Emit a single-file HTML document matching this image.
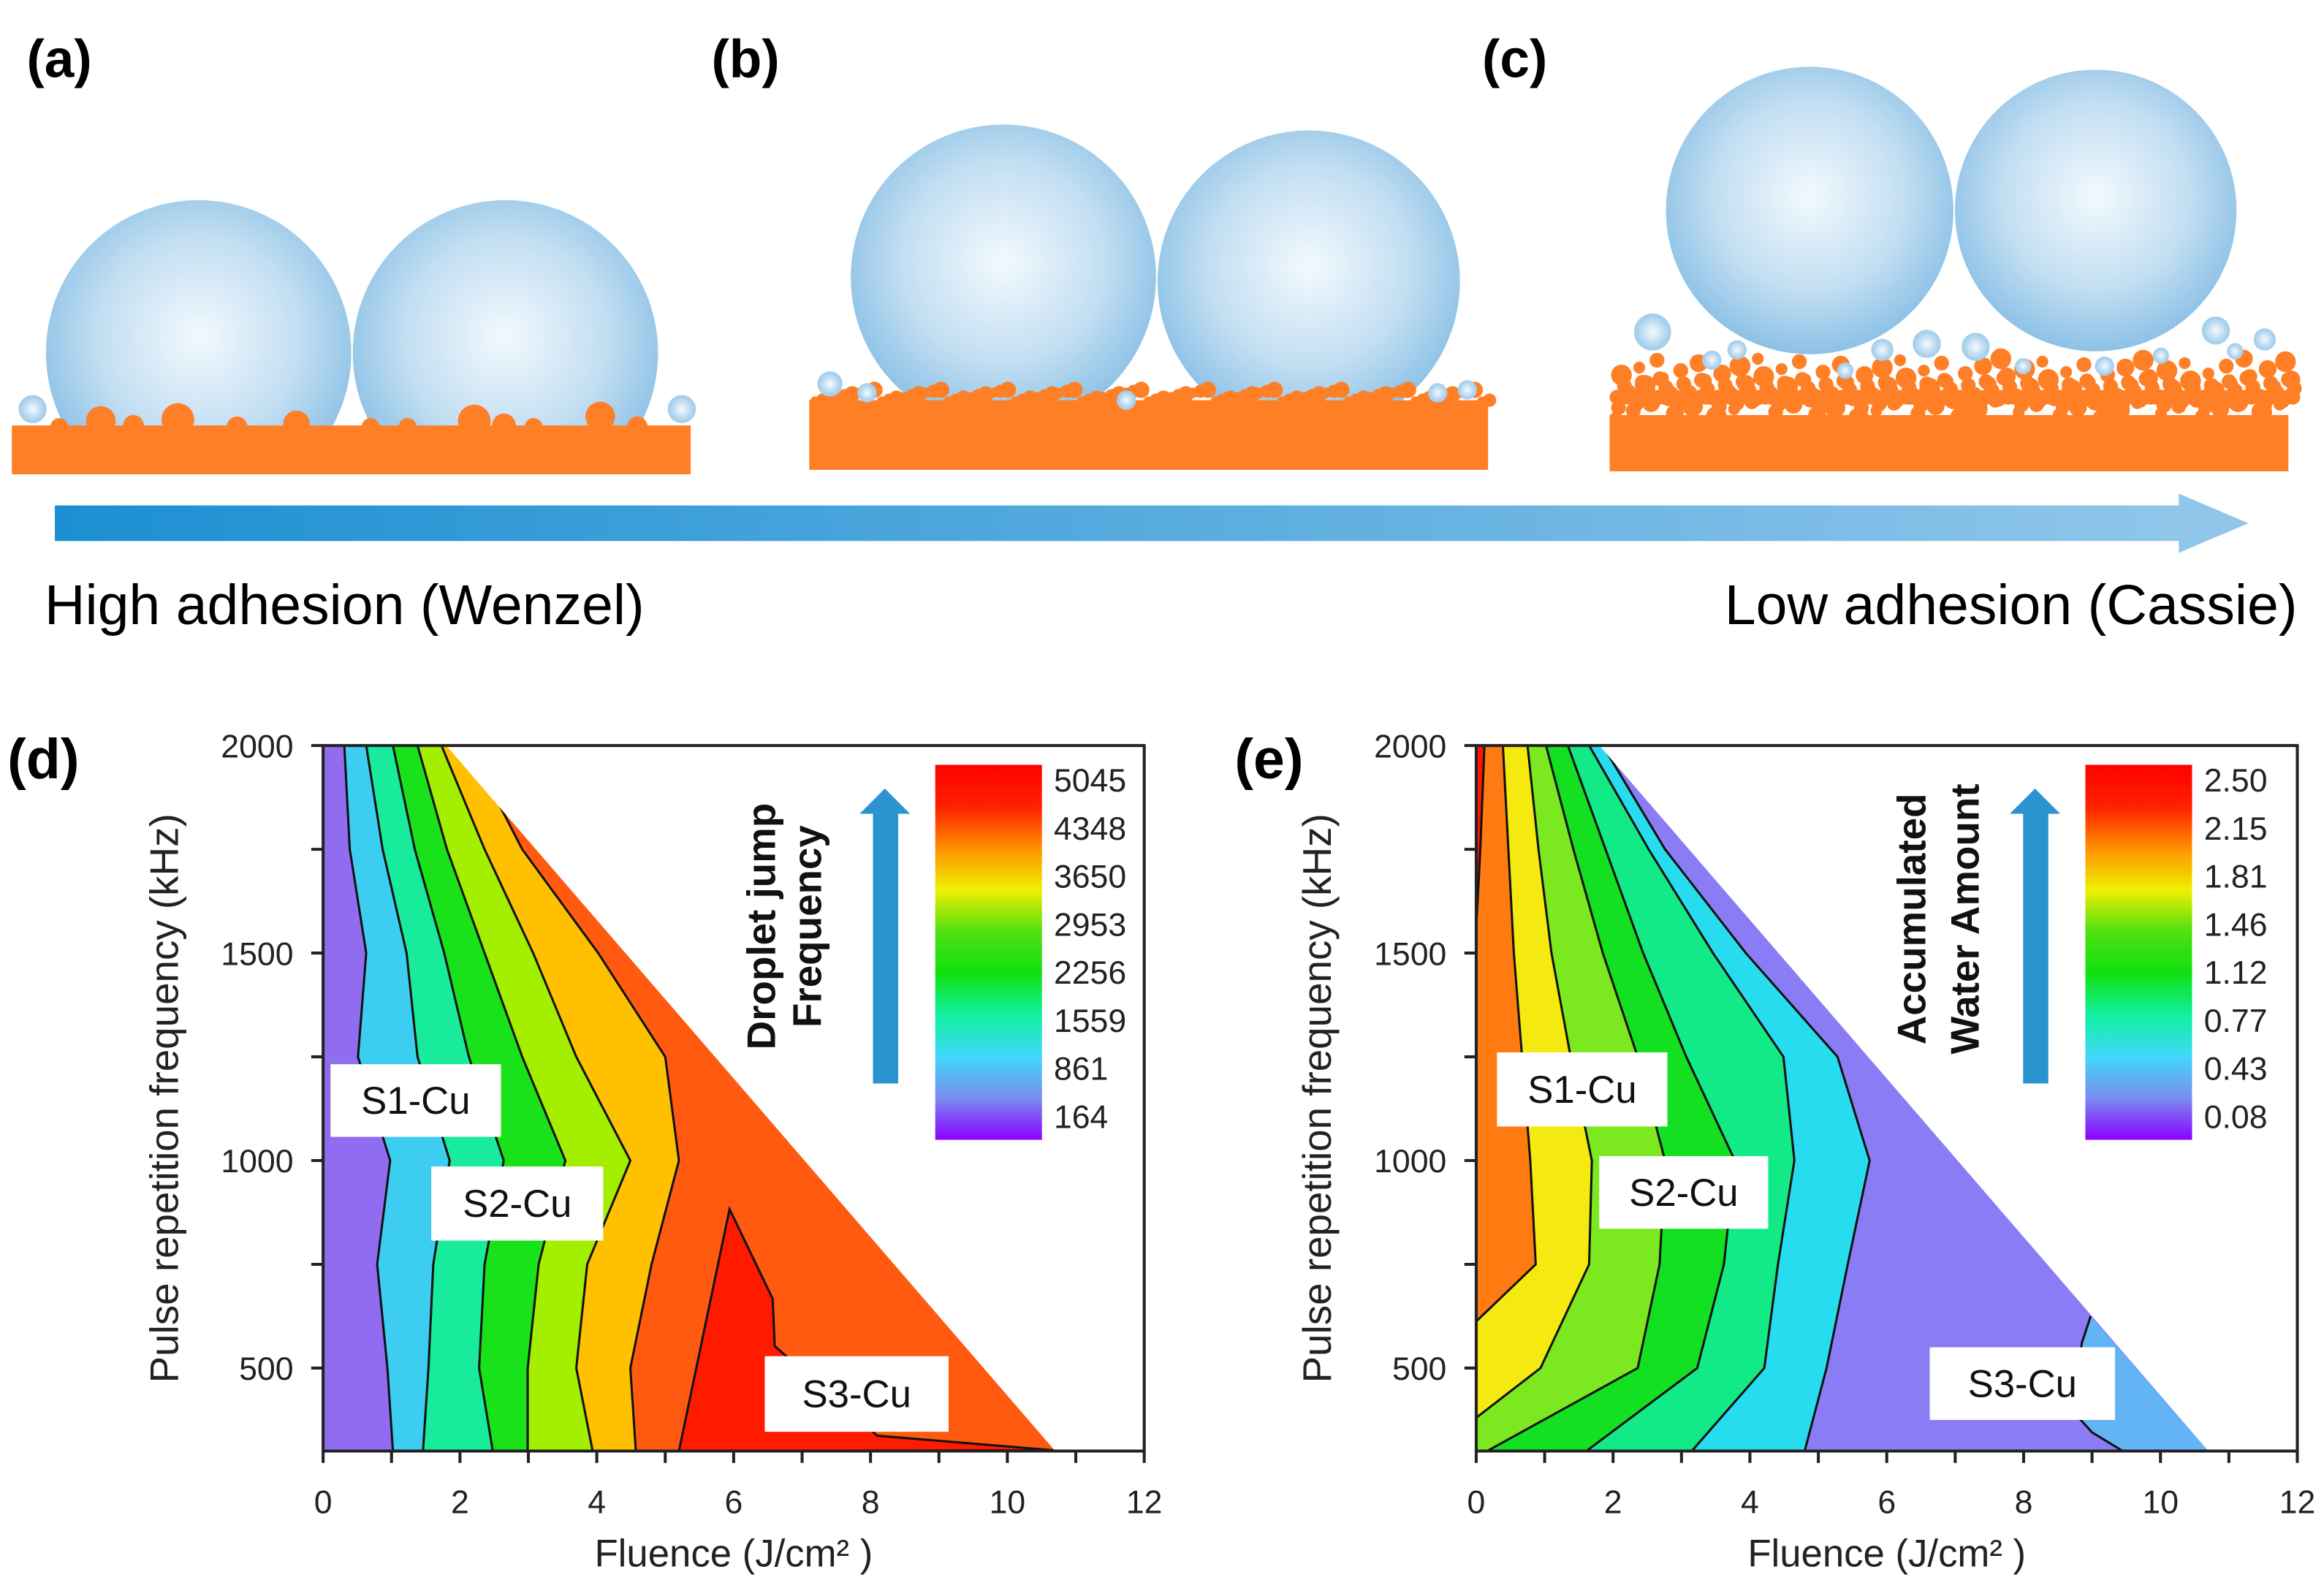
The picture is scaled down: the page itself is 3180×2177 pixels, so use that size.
<!DOCTYPE html>
<html><head><meta charset="utf-8">
<style>
html,body{margin:0;padding:0;background:#fff;}
svg{display:block;font-family:"Liberation Sans",Arial,sans-serif;}
</style></head>
<body>
<svg id="fig" width="3180" height="2177" viewBox="0 0 1568 1073.4" xmlns="http://www.w3.org/2000/svg">
<defs>
<radialGradient id="drop" cx="0.5" cy="0.45" r="0.55">
<stop offset="0" stop-color="#f2f9fd"/><stop offset="0.6" stop-color="#c2def2"/><stop offset="1" stop-color="#8cc1e6"/>
</radialGradient>
<radialGradient id="bub" cx="0.5" cy="0.5" r="0.5">
<stop offset="0" stop-color="#f4fafe"/><stop offset="1" stop-color="#9fcbea"/>
</radialGradient>
<linearGradient id="arrowg" x1="0" x2="1" y1="0" y2="0">
<stop offset="0" stop-color="#1b8fd2"/><stop offset="1" stop-color="#90c6ea"/>
</linearGradient>
<clipPath id="clipA"><rect x="0" y="0" width="1568" height="295"/></clipPath>
<clipPath id="clipB"><rect x="0" y="0" width="1568" height="275"/></clipPath>
<clipPath id="clipC"><rect x="0" y="0" width="1568" height="250"/></clipPath>
</defs>

<g id="topSchematic"></g>

<text x="18" y="52" font-size="36" font-weight="bold">(a)</text>
<text x="480" y="52" font-size="36" font-weight="bold">(b)</text>
<text x="1000" y="52" font-size="36" font-weight="bold">(c)</text>

<g>
<rect x="37" y="341" width="1436" height="24" fill="url(#arrowg)"/>
<polygon points="1470,333 1517,353 1470,373" fill="#90c6ea"/>
</g>
<text x="30" y="421" font-size="38">High adhesion (Wenzel)</text>
<text x="1550" y="421" font-size="38" text-anchor="end">Low adhesion (Cassie)</text>

<text x="5" y="525" font-size="38" font-weight="bold">(d)</text>
<text x="833" y="525" font-size="38" font-weight="bold">(e)</text>

<g id="plotD"></g>
<g id="plotE"></g>
</svg>

<script>
// ---------- chart data ----------
const yLevels = [2000, 1750, 1500, 1250, 1000, 750, 500, 300];
const xTicks = [0, 2, 4, 6, 8, 10, 12];
const yTicks = [500, 1000, 1500, 2000];
const domainEdgeTop = 1.8;
const domainEdgeBottom = 10.7;

const dLine1 = [0.31, 0.39, 0.63, 0.51, 0.98, 0.79, 0.94, 1.02];
const dLine2 = [0.63, 0.87, 1.22, 1.38, 1.85, 1.61, 1.54, 1.46];
const dLine3 = [1.02, 1.34, 1.77, 2.13, 2.64, 2.36, 2.28, 2.48];
const dLine4 = [1.38, 1.81, 2.36, 2.91, 3.54, 3.15, 2.99, 2.99];
const dLine5 = [1.73, 2.36, 3.07, 3.70, 4.49, 3.86, 3.70, 3.94];
const dLine6 = [2.13, 2.91, 4.02, 5.00, 5.20, 4.80, 4.49, 4.57];
const dPeakX = [5.2, 5.94, 6.57, 6.6, 8.1, 10.67];
const dPeakY = [300, 883, 667, 553, 337, 302];
const dColors = ['#8f6cf0', '#3ccdf0', '#18ec9c', '#1ae21a', '#a4ee00', '#ffc000', '#ff5a10'];
const dPeakColor = '#ff1a00';
const dBarLabels = ['5045', '4348', '3650', '2953', '2256', '1559', '861', '164'];

const eLine1 = [0.12, 0.06, -0.02, -0.09, -0.16, -0.2, -0.24, -0.28];
const eLine2 = [0.39, 0.47, 0.55, 0.67, 0.79, 0.87, -0.71, -1.18];
const eLine3 = [0.75, 0.91, 1.10, 1.38, 1.69, 1.65, 0.94, -0.63];
const eLine4 = [1.02, 1.42, 1.85, 2.36, 2.76, 2.68, 2.36, 0.16];
const eLine5 = [1.34, 1.89, 2.44, 3.07, 3.78, 3.62, 3.23, 1.61];
const eLine6 = [1.65, 2.52, 3.46, 4.49, 4.65, 4.41, 4.21, 3.15];
const eLine7 = [1.85, 2.76, 3.94, 5.28, 5.75, 5.43, 5.12, 4.80];
const eCornerX = [8.98, 8.85, 8.7, 9.0, 9.45, 10.7];
const eCornerY = [625, 560, 400, 345, 300, 300];
const eColors = ['#ff1500', '#ff7a10', '#f5ea10', '#7ce820', '#12e020', '#12ea88', '#28dcf0', '#8a7cf5'];
const eCornerColor = '#62b4f4';
const eBarLabels = ['2.50', '2.15', '1.81', '1.46', '1.12', '0.77', '0.43', '0.08'];

const NS = 'http://www.w3.org/2000/svg';
function mk(tag, attrs, parent) {
  const el = document.createElementNS(NS, tag);
  for (const k in attrs) el.setAttribute(k, attrs[k]);
  if (parent) parent.appendChild(el);
  return el;
}

// ---------- top schematic ----------
const topG = document.getElementById('topSchematic');
function drop(cx, cy, r, name, clip) {
  const c = mk('circle', {cx, cy, r, fill: 'url(#drop)', 'clip-path': `url(#${clip})`}, topG);
  
  
}
function bubble(cx, cy, r) {
  const c = mk('circle', {cx, cy, r, fill: 'url(#bub)', stroke: '#a9d0ec', 'stroke-width': 1}, topG);
  
  
}
function substrate(x, y, w, h, bumps, name) {
  const g = mk('g', {fill: '#ff7f27'}, topG);
  
  
  mk('rect', {x, y, width: w, height: h}, g);
  bumps.forEach(b => mk('circle', {cx: b[0], cy: b[1], r: b[2]}, g));
}
drop(134, 238, 103, 'droplet-a1', 'clipA'); drop(341, 238, 103, 'droplet-a2', 'clipA');
drop(677, 187, 103, 'droplet-b1', 'clipB'); drop(883, 190, 102, 'droplet-b2', 'clipB');
drop(1221, 142, 97, 'droplet-c1', 'clipC'); drop(1414, 142, 95, 'droplet-c2', 'clipC');

substrate(8, 287, 458, 33, [[40,288,6],[68,284,10],[90,287,7],[120,283,11],[160,288,7],[200,286,9],[250,288,6],[275,288,6],[320,284,11],[340,287,8],[360,288,6],[405,281,10],[430,288,7]], 'substrate-a');
const bb = [];
for (let i = 0; i < 92; i++) {
  const x = 550 + i * 5;
  bb.push([x, 271 - ((i * 37) % 9), 3.5 + ((i * 13) % 3)]);
}
substrate(546, 270, 458, 47, bb, 'substrate-b');
const cbm = [];
for (let i = 0; i < 115; i++) {
  const x = 1090 + i * 4;
  const hh = (i * 29) % 41;
  cbm.push([x, 282 - hh, 4 + ((i * 7) % 4)]);
  cbm.push([x + 2, 275 - hh * 0.5, 5]);
  cbm.push([x + 1, 268, 5]);
}
substrate(1086, 280, 458, 38, cbm, 'substrate-c');

[[22,276,9],[460,276,9],[560,259,8],[585,265,6],[760,270,6],[970,265,6],[990,263,6],
 [1115,224,12],[1155,243,6],[1172,236,6],[1245,250,5],[1270,236,7],[1300,232,9],[1333,234,9],
 [1365,247,5],[1420,247,6],[1458,240,5],[1495,223,9],[1508,237,5],[1528,229,7]].forEach(b => bubble(b[0], b[1], b[2]));

// ---------- contour plot ----------
function contourPlot(gid, x0, cfg) {
  const g = document.getElementById(gid);
  const W = 554, yTop = 503, yBot = 979;
  const sx = v => x0 + v / 12 * W;
  const sy = v => yBot - (v - 300) / 1700 * (yBot - yTop);
  const clipId = gid + 'clip';
  const defs = mk('defs', {}, g);
  const cp = mk('clipPath', {id: clipId}, defs);
  mk('polygon', {points: `${sx(0)},${sy(300)} ${sx(0)},${sy(2000)} ${sx(domainEdgeTop)},${sy(2000)} ${sx(domainEdgeBottom)},${sy(300)}`}, cp);
  const area = mk('g', {'clip-path': `url(#${clipId})`}, g);
  const lines = cfg.lines;
  const bound = [yLevels.map(() => -3), ...lines, yLevels.map(() => 14)];
  for (let i = 0; i < bound.length - 1; i++) {
    const a = bound[i], b = bound[i + 1];
    const pts = [];
    yLevels.forEach((y, k) => pts.push(`${sx(a[k])},${sy(y)}`));
    for (let k = yLevels.length - 1; k >= 0; k--) pts.push(`${sx(b[k])},${sy(yLevels[k])}`);
    const p = mk('polygon', {points: pts.join(' '), fill: cfg.colors[i]}, area);
    
    
  }
  if (cfg.extraX) {
    const pts = cfg.extraX.map((x, k) => `${sx(x)},${sy(cfg.extraY[k])}`);
    const pg = mk('polygon', {points: pts.join(' '), fill: cfg.extraColor}, area);
    
    
    const pl = mk(cfg.extraClosed ? 'polygon' : 'polyline', {points: pts.join(' '), fill: 'none', stroke: '#111', 'stroke-width': 1.5}, area);
    
    
  }
  lines.forEach((ln, i) => {
    const pts = ln.map((x, k) => `${sx(x)},${sy(yLevels[k])}`).join(' ');
    const pl = mk('polyline', {points: pts, fill: 'none', stroke: '#111', 'stroke-width': 1.5}, area);
    
    
  });
  const fr = mk('rect', {x: x0, y: yTop, width: W, height: yBot - yTop, fill: 'none', stroke: '#222', 'stroke-width': 2}, g);
  
  
  for (let v = 0; v <= 12; v++) mk('line', {x1: sx(v), x2: sx(v), y1: yBot, y2: yBot + 8, stroke: '#222', 'stroke-width': 2}, g);
  for (let v = 500; v <= 2000; v += 250) mk('line', {x1: x0, x2: x0 - 8, y1: sy(v), y2: sy(v), stroke: '#222', 'stroke-width': 2}, g);
  xTicks.forEach(v => {
    const t = mk('text', {x: sx(v), y: yBot + 42, 'font-size': 22, 'text-anchor': 'middle', fill: '#222'}, g);
    t.textContent = v;
    
    
  });
  yTicks.forEach(v => {
    const t = mk('text', {x: x0 - 20, y: sy(v) + 8, 'font-size': 22, 'text-anchor': 'end', fill: '#222'}, g);
    t.textContent = v;
    
    
  });
  const xt = mk('text', {x: x0 + 277, y: 1057, 'font-size': 26, 'text-anchor': 'middle', fill: '#222'}, g);
  xt.textContent = 'Fluence (J/cm\u00B2 )';
  
  
  const yt = mk('text', {x: 0, y: 0, 'font-size': 27, 'text-anchor': 'middle', fill: '#222', transform: `translate(${x0 - 98},741) rotate(-90)`}, g);
  yt.textContent = 'Pulse repetition frequency (kHz)';
  
  
  cfg.boxes.forEach(b => {
    const bg = mk('g', {}, g);
    
    
    mk('rect', {x: b[0], y: b[1], width: b[2], height: b[3], fill: '#fff'}, bg);
    const t = mk('text', {x: b[0] + b[2] / 2, y: b[1] + b[3] / 2 + 9, 'font-size': 26, 'text-anchor': 'middle', fill: '#111'}, bg);
    t.textContent = b[4];
  });
  const cbx = x0 + cfg.cbOff, cbw = 72, cby = 516, cbh = 253;
  const lg = mk('linearGradient', {id: gid + 'cb', x1: 0, x2: 0, y1: 1, y2: 0}, defs);
  ['#8a00ff', '#7a8cf0', '#40d8f8', '#10f0a0', '#10e010', '#50e010', '#f0f000', '#ff9000', '#ff2000', '#ff0000'].forEach((c, i, arr) =>
    mk('stop', {offset: i / (arr.length - 1), 'stop-color': c}, lg));
  const cb = mk('rect', {x: cbx, y: cby, width: cbw, height: cbh, fill: `url(#${gid}cb)`}, g);
  
  
  cfg.barLabels.forEach((s, i) => {
    const t = mk('text', {x: cbx + cbw + 8, y: cby + 18 + i * (cbh - 26) / 7, 'font-size': 22, fill: '#222'}, g);
    t.textContent = s;
    
    
  });
  const ax = cbx - 34;
  const ar = mk('g', {fill: '#2a93d0'}, g);
  
  
  mk('rect', {x: ax - 8, y: 549, width: 17, height: 182}, ar);
  mk('polygon', {points: `${ax - 17},549 ${ax},532 ${ax + 17},549`}, ar);
  cfg.titles.forEach((s, i) => {
    const t = mk('text', {x: 0, y: 0, 'font-size': 27, 'font-weight': 'bold', 'text-anchor': 'middle', fill: '#111',
      transform: `translate(${cbx + cfg.titleOff[i]},${cfg.titleY}) rotate(-90)`}, g);
    t.textContent = s;
    
    
  });
}

contourPlot('plotD', 218, {
  lines: [dLine1, dLine2, dLine3, dLine4, dLine5, dLine6],
  colors: dColors,
  extraX: dPeakX, extraY: dPeakY, extraColor: dPeakColor, extraClosed: true,
  boxes: [[223, 718, 115, 49, 'S1-Cu'], [291, 787, 116, 50, 'S2-Cu'], [516, 915, 124, 51, 'S3-Cu']],
  cbOff: 413, barLabels: dBarLabels,
  titles: ['Droplet jump', 'Frequency'], titleOff: [-108, -77], titleY: 625
});
contourPlot('plotE', 996, {
  lines: [eLine1, eLine2, eLine3, eLine4, eLine5, eLine6, eLine7],
  colors: eColors,
  extraX: eCornerX, extraY: eCornerY, extraColor: eCornerColor, extraClosed: false,
  boxes: [[1010, 710, 115, 50, 'S1-Cu'], [1079, 780, 114, 49, 'S2-Cu'], [1302, 909, 125, 49, 'S3-Cu']],
  cbOff: 411, barLabels: eBarLabels,
  titles: ['Accumulated', 'Water Amount'], titleOff: [-108, -72], titleY: 620
});
</script>
</body></html>
